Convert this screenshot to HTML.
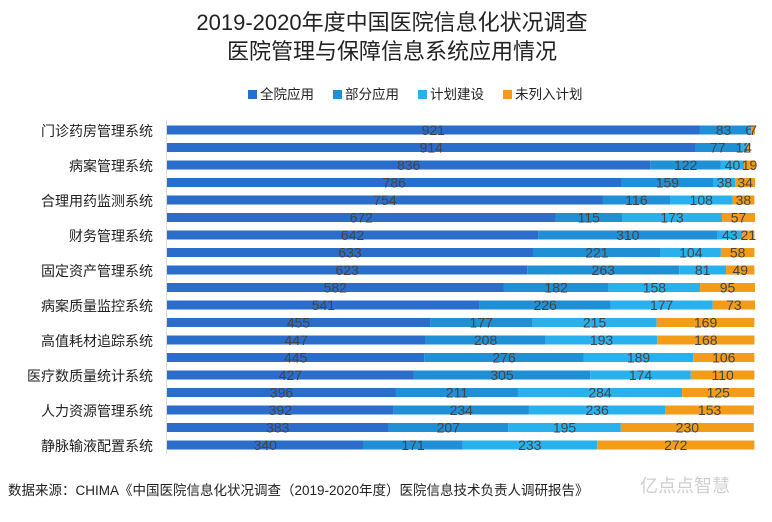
<!DOCTYPE html>
<html><head><meta charset="utf-8"><style>
body{margin:0;background:#fff;width:772px;height:517px;overflow:hidden;font-family:"Liberation Sans","Noto Sans CJK SC",sans-serif}
</style></head><body>
<svg id="c" width="772" height="517" xmlns="http://www.w3.org/2000/svg" style="font-family:'Liberation Sans','Noto Sans CJK SC',sans-serif">
<text x="392" y="30" text-anchor="middle" font-size="22" fill="#222">2019-2020年度中国医院信息化状况调查</text>
<text x="392" y="59" text-anchor="middle" font-size="22" fill="#222">医院管理与保障信息系统应用情况</text>
<g id="legend"></g>
<g id="cats"></g>
<g id="bars"></g>
<line x1="166.5" y1="120" x2="166.5" y2="454" stroke="#ddd"/>
<text x="8" y="495" font-size="13.5" fill="#222">数据来源：CHIMA《中国医院信息化状况调查（2019-2020年度）医院信息技术负责人调研报告》</text>
<text x="640" y="492" font-size="18" fill="#bbb" opacity="0.7">亿点点智慧</text>
</svg>
<script>
const categories=["门诊药房管理系统","病案管理系统","合理用药监测系统","财务管理系统","固定资产管理系统","病案质量监控系统","高值耗材追踪系统","医疗数质量统计系统","人力资源管理系统","静脉输液配置系统"];
const seriesNames=["全院应用","部分应用","计划建设","未列入计划"];
const fullUse=[921,914,836,786,754,672,642,633,623,582,541,455,447,445,427,396,392,383,340];
const partUse=[83,77,122,159,116,115,310,221,263,182,226,177,208,276,305,211,234,207,171];
const planned=[6,12,40,38,108,173,43,104,81,158,177,215,193,189,174,284,236,195,233];
const notPlanned=[7,4,19,34,38,57,21,58,49,95,73,169,168,106,110,125,153,230,272];
const colors=["#2a6dcb","#1f8fd6","#29b1ee","#f39c1a"];
const NS="http://www.w3.org/2000/svg";
const x0=167, total=1017, W=588;
const xs=v=>v/total*W;
const y0=130, step=17.5, bh=9;
const yb=i=>y0+i*step;
function mk(t,a,p){const e=document.createElementNS(NS,t);for(const k in a)e.setAttribute(k,a[k]);p.appendChild(e);return e;}
const lg=document.getElementById('legend');
const lx=[248,333,418,503];
seriesNames.forEach((n,i)=>{
  const r=mk('rect',{x:lx[i],y:90,width:9,height:9,fill:colors[i]},lg);
  
  
  const t=mk('text',{x:lx[i]+12,y:99,'font-size':13.5,fill:'#222'},lg);t.textContent=n;
  
  
});
const cg=document.getElementById('cats');
categories.forEach((c,i)=>{
  const t=mk('text',{x:153,y:yb(i*2)+6,'text-anchor':'end','font-size':14,fill:'#222'},cg);t.textContent=c;
  
  
});
const bg=document.getElementById('bars');
const series=[fullUse,partUse,planned,notPlanned];
fullUse.forEach((_,i)=>{
  let x=x0;
  series.forEach((s,j)=>{
    const w=xs(s[i]);
    const r=mk('rect',{x:x,y:yb(i)-bh/2,width:w,height:bh,fill:colors[j]},bg);
    
    
    const t=mk('text',{x:x+w/2,y:yb(i)+5,'text-anchor':'middle','font-size':14,fill:'#444'},bg);
    t.textContent=s[i];
    
    
    x+=w;
  });
});
</script>
</body></html>
